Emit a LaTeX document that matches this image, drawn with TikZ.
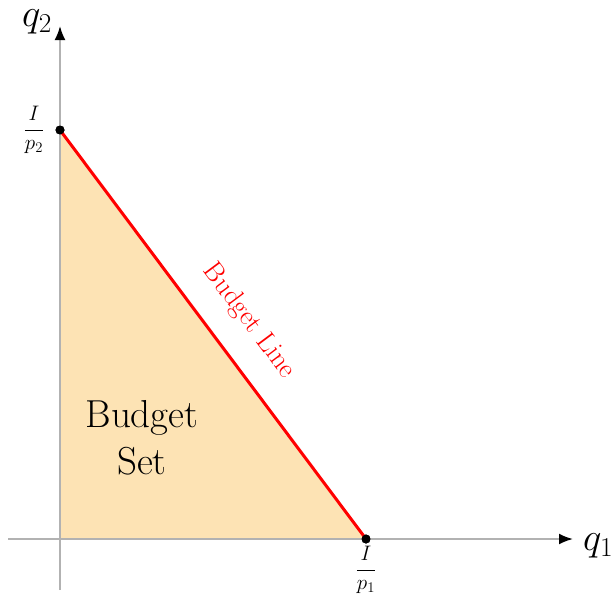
\RequirePackage{fix-cm}
\documentclass[tikz,border=0pt]{standalone}
\usepackage{fontspec}
\usetikzlibrary{arrows.meta}
\definecolor{setfill}{RGB}{253,227,180}
\tikzset{
  axis/.style={draw=black!30, line width=2pt, -{Latex[length=14pt,width=11pt,black]}},
  budget/.style={draw=red, line width=3pt},
  dot/.style={circle, fill=black, inner sep=0pt, minimum size=9pt},
  bigtxt/.style={font=\fontsize{39}{47}\selectfont},
  lbl/.style={font=\fontsize{21}{25}\selectfont},
}
\begin{document}
\begin{tikzpicture}[x=1pt,y=-1pt]
\useasboundingbox (0,0) rectangle (615,595);
\coordinate (O) at (60,539);
\node[dot] (A) at (60,130) {};
\node[dot] (B) at (366,539) {};
\fill[setfill] (O) -- (A.center) -- (B.center) -- cycle;
\coordinate (xs) at (8,539);
\coordinate (xe) at (573,539);
\coordinate (ys) at (60,590);
\coordinate (ye) at (60,26);
\draw[axis] (xs) -- (xe);
\draw[axis] (ys) -- (ye);
\draw[budget] (A.center) -- (B.center);
\node[dot] at (A) {};
\node[dot] at (B) {};
\node[bigtxt, anchor=west, inner sep=0pt] (q1) at (583,546) {$q_1$};
\node[bigtxt, inner sep=0pt] (q2) at (37,22) {$q_2$};
\node[lbl, inner sep=0pt] (la) at (34,130) {$\displaystyle\frac{I}{p_2}$};
\node[lbl, inner sep=0pt] (lb) at (366,570) {$\displaystyle\frac{I}{p_1}$};
\node[bigtxt, align=center] (bs) at (142,438) {Budget\\Set};
\node[text=red, rotate=-53.2, font=\fontsize{27.5}{30}\selectfont] (bl) at (249,321) {Budget Line};
\end{tikzpicture}
\end{document}
